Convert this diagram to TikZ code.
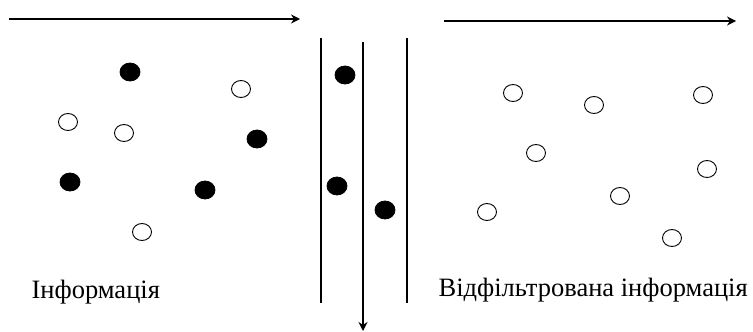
\documentclass[tikz,border=0pt]{standalone}
\usepackage{fontspec}
\setmainfont{Liberation Serif}
\usetikzlibrary{arrows.meta,shapes.geometric}
\begin{document}
\begin{tikzpicture}[x=1pt,y=-1pt,
  line width=1.2pt,
  flow/.style={-{Stealth[length=9pt,width=9pt,inset=3pt]}},
  fulldot/.style={ellipse,draw,fill=black,minimum width=20pt,minimum height=18pt,inner sep=0pt,line width=0.8pt},
  emptydot/.style={ellipse,draw,fill=white,minimum width=19pt,minimum height=17pt,inner sep=0pt,line width=0.9pt},
  lbl/.style={font=\fontsize{26.5}{30}\selectfont,inner sep=0pt,anchor=base west}]
\useasboundingbox (0,0) rectangle (753,332);
% arrows
\coordinate (a1s) at (9,19); \coordinate (a1e) at (300,19);
\coordinate (a2s) at (444,21); \coordinate (a2e) at (736,21);
\draw[flow] (a1s) -- (a1e);
\draw[flow] (a2s) -- (a2e);
% channel walls
\coordinate (w1t) at (321,38); \coordinate (w1b) at (321,303);
\coordinate (w2t) at (407,38); \coordinate (w2b) at (407,303);
\coordinate (mt) at (363,42); \coordinate (mb) at (363,331);
\draw (w1t) -- (w1b);
\draw (w2t) -- (w2b);
\draw[flow] (mt) -- (mb);
% left dots
\node[fulldot] (l1) at (130,72) {};
\node[emptydot] (l2) at (241,89) {};
\node[emptydot] (l3) at (68,122) {};
\node[emptydot] (l4) at (124,133) {};
\node[fulldot] (l5) at (257,139) {};
\node[fulldot] (l6) at (70,182) {};
\node[fulldot] (l7) at (205,190) {};
\node[emptydot] (l8) at (142,232) {};
% middle dots
\node[fulldot] (m1) at (345,75) {};
\node[fulldot] (m2) at (337,186) {};
\node[fulldot] (m3) at (385,210) {};
% right dots
\node[emptydot] (r1) at (513,93) {};
\node[emptydot] (r2) at (594,105) {};
\node[emptydot] (r3) at (703,95) {};
\node[emptydot] (r4) at (536,153) {};
\node[emptydot] (r5) at (707,169) {};
\node[emptydot] (r6) at (620,196) {};
\node[emptydot] (r7) at (487,212) {};
\node[emptydot] (r8) at (672,238) {};
% labels
\node[lbl] (t1) at (31,298) {Інформація};
\node[lbl] (t2) at (438,296) {Відфільтрована інформація};
\end{tikzpicture}
\end{document}
